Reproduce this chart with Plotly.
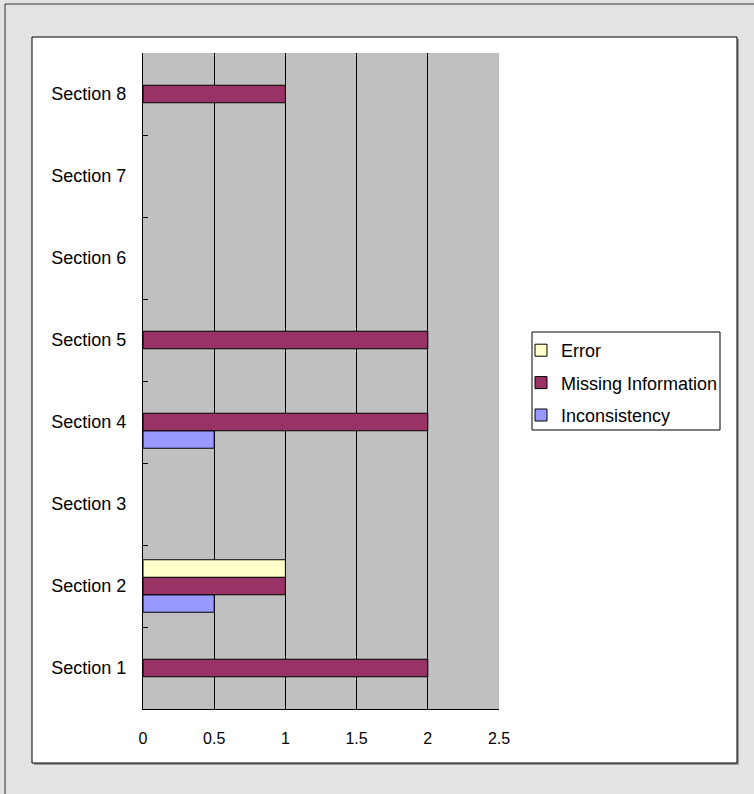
import plotly.graph_objects as go

sections = ["Section 1", "Section 2", "Section 3", "Section 4",
            "Section 5", "Section 6", "Section 7", "Section 8"]
inconsistency = [None, 0.5, None, 0.5, None, None, None, None]
missing_info = [2, 1, None, 2, 2, None, None, 1]
error = [None, 1, None, None, None, None, None, None]
x_ticks = [0, 0.5, 1, 1.5, 2, 2.5]
x_tick_text = ["0", "0.5", "1", "1.5", "2", "2.5"]

W, H = 754, 794
L, R, T, B = 143, 499, 53, 709


def px_x(p):
    return (p - L) / (R - L)


def px_y(p):
    return (B - p) / (B - T)


FAMILY = "Liberation Sans, Arial, sans-serif"
font = dict(family=FAMILY, size=18, color="black")

fig = go.Figure()
series = [
    ("Inconsistency", inconsistency, "#9999FF", 3),
    ("Missing Information", missing_info, "#993366", 2),
    ("Error", error, "#FFFFCC", 1),
]
for name, vals, col, rank in series:
    fig.add_trace(go.Bar(
        y=sections, x=vals, name=name, orientation="h",
        marker=dict(color=col, line=dict(color="black", width=1)),
        legendgroup=name, legendrank=rank,
    ))

shapes = [
    # outer frame edges
    dict(type="line", xref="paper", yref="paper",
         x0=px_x(5), x1=px_x(5), y0=px_y(800), y1=px_y(4),
         line=dict(color="#333333", width=1), layer="below"),
    dict(type="line", xref="paper", yref="paper",
         x0=px_x(5), x1=px_x(760), y0=px_y(4), y1=px_y(4),
         line=dict(color="#333333", width=1), layer="below"),
    # panel shadow
    dict(type="rect", xref="paper", yref="paper",
         x0=px_x(34), x1=px_x(739), y0=px_y(765), y1=px_y(39),
         line=dict(width=0), fillcolor="#9a9a9a", layer="below"),
    # white chart panel
    dict(type="rect", xref="paper", yref="paper",
         x0=px_x(32), x1=px_x(737), y0=px_y(763), y1=px_y(37),
         line=dict(color="black", width=1), fillcolor="white", layer="below"),
    # plot area fill
    dict(type="rect", xref="paper", yref="paper",
         x0=0, x1=1, y0=0, y1=1,
         line=dict(width=0), fillcolor="#C0C0C0", layer="below"),
    # legend box
    dict(type="rect", xref="paper", yref="paper",
         x0=px_x(532), x1=px_x(720), y0=px_y(430), y1=px_y(332),
         line=dict(color="black", width=1), fillcolor="white", layer="below"),
]

fig.update_layout(
    width=W, height=H,
    margin=dict(l=L, r=W - R, t=T, b=H - B),
    paper_bgcolor="#E4E4E4",
    plot_bgcolor="rgba(0,0,0,0)",
    barmode="group",
    bargap=0.36,
    bargroupgap=0,
    font=font,
    showlegend=True,
    legend=dict(
        x=px_x(521), y=px_y(332), xanchor="left", yanchor="top",
        bgcolor="rgba(0,0,0,0)", borderwidth=0,
        traceorder="grouped", tracegroupgap=6,
        font=font,
    ),
    shapes=shapes,
    xaxis=dict(
        range=[0, 2.5], tickvals=x_ticks, ticktext=x_tick_text,
        tickfont=dict(family=FAMILY, size=16, color="black"),
        showgrid=True, gridcolor="black", gridwidth=1,
        showline=True, linecolor="black", linewidth=1,
        zeroline=False, ticks="", ticklabelstandoff=15,
        fixedrange=True,
    ),
    yaxis=dict(
        categoryorder="array", categoryarray=sections,
        showgrid=False, showline=True, linecolor="black", linewidth=1,
        ticks="inside", tickson="boundaries", ticklen=5, tickcolor="black",
        ticklabelstandoff=12, zeroline=False, fixedrange=True,
    ),
)

fig.write_html("out.html")
